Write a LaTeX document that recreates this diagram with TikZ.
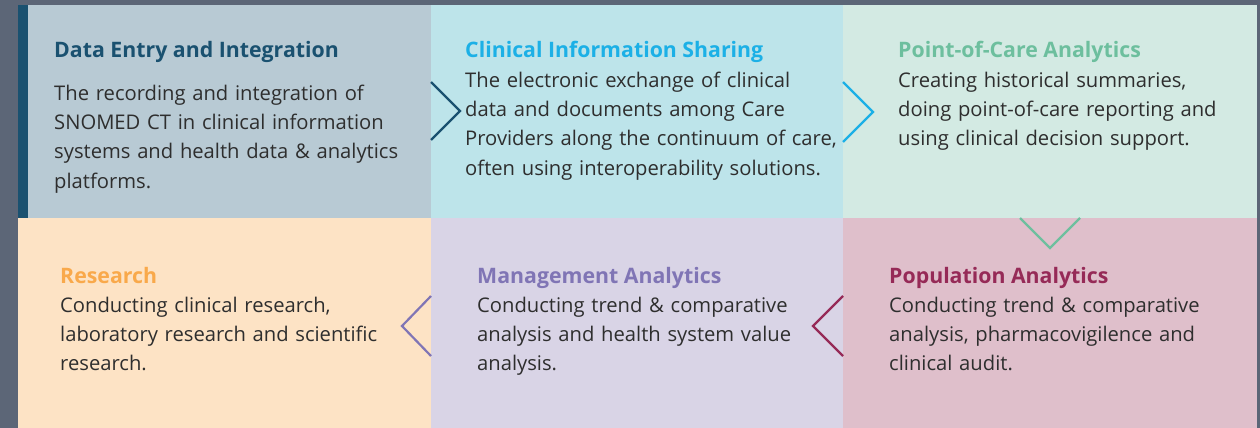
\documentclass[tikz,border=0pt]{standalone}
\usepackage{fontspec}
\setmainfont{Open Sans}
\usetikzlibrary{positioning}

\definecolor{slate}{HTML}{5C6677}
\definecolor{entrybg}{HTML}{B8CAD4}
\definecolor{entryfg}{HTML}{1A5170}
\definecolor{sharebg}{HTML}{BDE4EA}
\definecolor{sharefg}{HTML}{1CB0E6}
\definecolor{carebg}{HTML}{D3EAE3}
\definecolor{carefg}{HTML}{6DBF9E}
\definecolor{researchbg}{HTML}{FDE3C5}
\definecolor{researchfg}{HTML}{F9A94B}
\definecolor{managebg}{HTML}{D9D4E6}
\definecolor{managefg}{HTML}{8075B5}
\definecolor{popbg}{HTML}{DFBFCB}
\definecolor{popfg}{HTML}{962A57}
\definecolor{bodytext}{HTML}{2E2E2E}

\begin{document}
\begin{tikzpicture}
	[x=1pt,y=-1pt,line join=miter]
	\tikzstyle{panel}=[draw=none,inner sep=0pt,outer sep=0pt,anchor=north west,minimum width=413pt,minimum height=213pt]
	\tikzstyle{heading}=[anchor=base west,inner sep=0pt,font=\bfseries\fontsize{21.3}{24}\selectfont]
	\tikzstyle{body}=[anchor=base west,inner sep=0pt,text width=395pt,align=left,text=bodytext,font=\fontsize{20.2}{29.4}\selectfont]
	\tikzstyle{chevron}=[line width=2.2pt]

	\useasboundingbox (0,0) rectangle (1260,428);
	\fill[slate] (0,0) rectangle (1260,428);

	% top row
	\node[panel,fill=entrybg] (entry) at (18,5) {};
	\node[panel,fill=sharebg,minimum width=412pt] (share) at (431,5) {};
	\node[panel,fill=carebg,minimum width=414pt] (care) at (843,5) {};
	\fill[entryfg] (18,5) rectangle (28,218);

	% bottom row
	\node[panel,fill=researchbg,minimum height=210pt] (research) at (18,218) {};
	\node[panel,fill=managebg,minimum width=412pt,minimum height=210pt] (manage) at (431,218) {};
	\node[panel,fill=popbg,minimum width=414pt,minimum height=210pt] (pop) at (843,218) {};

	% chevrons
	\draw[chevron,entryfg] (431,82) -- (460,111) -- (431,140);
	\draw[chevron,sharefg] (843,82) -- (873,112) -- (843,142);
	\draw[chevron,carefg] (1020,218) -- (1050,248) -- (1080,218);
	\draw[chevron,popfg] (843,296) -- (813,326) -- (843,356);
	\draw[chevron,managefg] (431,296) -- (402,326) -- (431,356);

	% texts
	\node[heading,text=entryfg] (entryT) at (54,58) {Data Entry and Integration};
	\node[body] (entryB) at (54,100) {The recording and integration of\\SNOMED CT in clinical information\\systems and health data \& analytics\\platforms.};

	\node[heading,text=sharefg] (shareT) at (465,57) {Clinical Information Sharing};
	\node[body] (shareB) at (465,87) {The electronic exchange of clinical\\data and documents among Care\\Providers along the continuum of care,\\often using interoperability solutions.};

	\node[heading,text=carefg] (careT) at (898,57) {Point-of-Care Analytics};
	\node[body] (careB) at (898,87) {Creating historical summaries,\\doing point-of-care reporting and\\using clinical decision support.};

	\node[heading,text=researchfg] (researchT) at (60,283) {Research};
	\node[body] (researchB) at (60,312) {Conducting clinical research,\\laboratory research and scientific\\research.};

	\node[heading,text=managefg] (manageT) at (477,283) {Management Analytics};
	\node[body] (manageB) at (477,312) {Conducting trend \& comparative\\analysis and health system value\\analysis.};

	\node[heading,text=popfg] (popT) at (889,283) {Population Analytics};
	\node[body] (popB) at (889,312) {Conducting trend \& comparative\\analysis, pharmacovigilence and\\clinical audit.};
\end{tikzpicture}
\end{document}
